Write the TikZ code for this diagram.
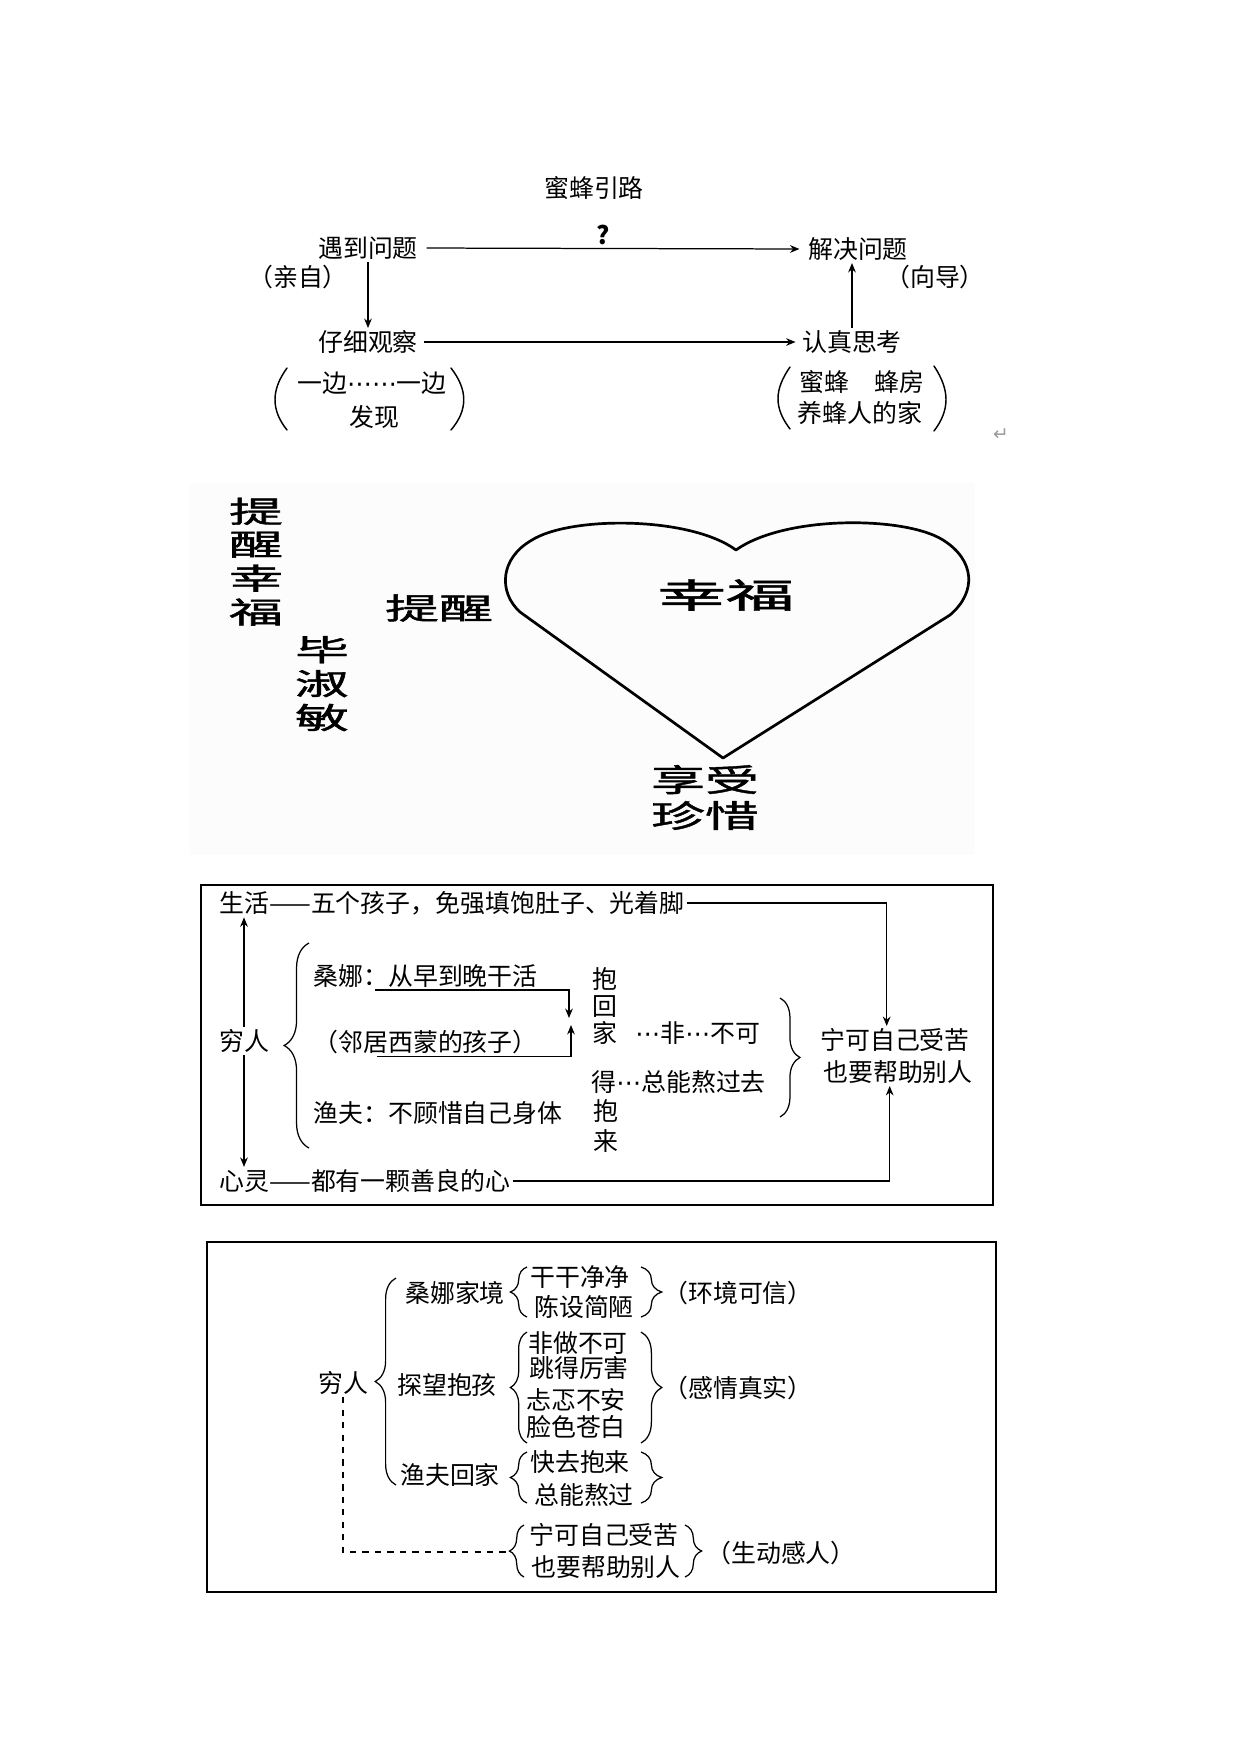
\documentclass[tikz,border=0pt]{standalone}
\usepackage{fontspec}
\setmainfont{Noto Sans CJK SC}
\newfontfamily\markfont{DejaVu Sans}
\newfontfamily\brushfont{Noto Sans CJK SC}[FakeBold=1.2]
\usepackage{graphicx}
\usepackage{xcolor}
\definecolor{hdpaper}{HTML}{FCFCFC}
\definecolor{hdmark}{HTML}{9A9A9A}
\usepackage{tikz}
\usetikzlibrary{arrows.meta,decorations.pathreplacing}
\newcommand{\squash}[2][0.55]{\scalebox{1}[#1]{#2}}
\newcommand{\middots}{{\markfont ⋯}}

\begin{document}
\begin{tikzpicture}[x=0.16933mm,y=-0.16933mm,
  txt/.style={inner sep=1pt,font=\fontsize{12}{13}\selectfont},
  brush/.style={inner sep=0pt,font=\brushfont\fontsize{26}{26.5}\selectfont},
  arr/.style={-{Stealth[length=1.6mm,width=1.3mm]},line width=0.6pt},
  frame/.style={draw,line width=0.8pt},
  paren/.style={line width=0.7pt,line cap=round},
  curly/.style={decorate,decoration={brace,amplitude=#1},line width=0.6pt}]
  \useasboundingbox (0,0) rectangle (1241,1754);

  \node[txt] (title) at (594,188) {蜜蜂引路};
  \node[txt,font=\bfseries\fontsize{12}{13}\selectfont] (ask) at (603,235) {?};
  \node[txt] (meet) at (368,248) {遇到问题};
  \node[txt] (solve) at (858,249) {解决问题};
  \node[txt] (self) at (298,277) {（亲自）};
  \node[txt] (guide) at (935,277) {（向导）};
  \node[txt] (observe) at (368,342) {仔细观察};
  \node[txt] (think) at (852,342) {认真思考};
  \node[txt] (side) at (372,383) {一边\middots\middots 一边};
  \node[txt] (found) at (374,417) {发现};
  \node[txt] (bees) at (862,382) {蜜蜂\quad 蜂房};
  \node[txt] (keeper) at (860,413) {养蜂人的家};
  \node[txt,text=hdmark,font=\markfont\fontsize{9}{10}\selectfont] (ret) at (1001,435) {↵};
  \draw[arr,shorten <=3pt,shorten >=3pt] (meet.east) -- (solve.west);
  \draw[arr] (meet.south) -- (meet.south |- observe.north);
  \draw[arr,shorten <=2pt,shorten >=2pt] (observe.east) -- (think.west);
  \draw[arr] (think.north) -- (think.north |- solve.south);
  \draw[paren] (287,368) .. controls (271,390) and (271,410) .. (287,430);
  \draw[paren] (451,368) .. controls (468,390) and (468,410) .. (451,430);
  \draw[paren] (790,367) .. controls (774,390) and (774,408) .. (790,429);
  \draw[paren] (934,366) .. controls (950,390) and (950,410) .. (934,431);

  \fill[hdpaper] (190,483) rectangle (975,855);
  \draw[line width=1.3pt,line join=round] (723,758) -- (520,612)
    .. controls (498,592) and (500,558) .. (532,540)
    .. controls (570,516) and (690,516) .. (736,550)
    .. controls (785,515) and (905,516) .. (943,540)
    .. controls (975,560) and (977,592) .. (950,615) -- cycle;
  \node[brush] (remind4) at (256,565) {\squash{\begin{tabular}{@{}c@{}}提\\醒\\幸\\福\end{tabular}}};
  \node[brush] (author) at (322,687) {\squash{\begin{tabular}{@{}c@{}}毕\\淑\\敏\end{tabular}}};
  \node[brush] (remind) at (439,608) {\squash{提醒}};
  \node[brush,font=\brushfont\fontsize{33}{34}\selectfont] (happy) at (726,595) {\squash[0.5]{幸福}};
  \node[brush] (enjoy) at (705,801) {\squash[0.58]{\begin{tabular}{@{}c@{}}享受\\珍惜\end{tabular}}};

  \draw[frame] (201,885) rectangle (993,1205);
  \node[txt,anchor=west] (life) at (217,903) {生活——五个孩子，免强填饱肚子、光着脚};
  \node[txt] (poor) at (244,1041) {穷人};
  \node[txt,anchor=west] (kind) at (217,1181) {心灵——都有一颗善良的心};
  \node[txt,anchor=west] (sangna) at (311,976) {桑娜：从早到晚干活};
  \node[txt,anchor=west] (neighbor) at (311,1042) {（邻居西蒙的孩子）};
  \node[txt,anchor=west] (fisherman) at (311,1113) {渔夫：不顾惜自己身体};
  \node[txt,align=center] (hughome) at (605,1006) {抱\\回\\家};
  \node[txt,anchor=west] (never) at (633,1033) {\middots 非\middots 不可};
  \node[txt,anchor=west] (endure) at (589,1082) {得\middots 总能熬过去};
  \node[txt,align=center,font=\fontsize{12}{14}\selectfont] (hugcome) at (606,1126) {抱\\来};
  \node[txt] (bear) at (895,1040) {宁可自己受苦};
  \node[txt] (help) at (898,1072) {也要帮助别人};
  \coordinate (hugdown) at (569,1018);
  \coordinate (hugup) at (571,1025);
  \draw[arr] (poor.north) -- (poor.north |- life.south);
  \draw[arr] (poor.south) -- (poor.south |- kind.north);
  \draw[arr] (life.east) -| ([xshift=-4pt]bear.north);
  \draw[arr] (kind.east) -| ([xshift=-4pt]help.south);
  \draw[arr] ([xshift=31pt]sangna.south west) -| (hugdown);
  \draw[arr] ([xshift=32pt]neighbor.south west) -| (hugup);
  \draw[curly=12pt] (309,1148) -- (309,943);
  \draw[curly=9.6pt] (780,998) -- (780,1117);

  \draw[frame] (207,1242) rectangle (996,1592);
  \node[txt] (poor2) at (343,1383) {穷人};
  \node[txt] (home) at (455,1293) {桑娜家境};
  \node[txt] (clean) at (580,1277) {干干净净};
  \node[txt] (plain) at (584,1307) {陈设简陋};
  \node[txt] (env) at (738,1293) {（环境可信）};
  \node[txt] (visit) at (447,1385) {探望抱孩};
  \node[txt] (must) at (578,1343) {非做不可};
  \node[txt] (jump) at (579,1368) {跳得厉害};
  \node[txt] (uneasy) at (576,1400) {忐忑不安};
  \node[txt] (pale) at (576,1427) {脸色苍白};
  \node[txt] (feel) at (738,1388) {（感情真实）};
  \node[txt] (fisher) at (450,1475) {渔夫回家};
  \node[txt] (fetch) at (580,1462) {快去抱来};
  \node[txt] (bearit) at (584,1495) {总能熬过};
  \node[txt] (bear2) at (604,1535) {宁可自己受苦};
  \node[txt] (help2) at (606,1567) {也要帮助别人};
  \node[txt] (vivid) at (781,1553) {（生动感人）};
  \coordinate (lasttip) at (507,1552);
  \draw[curly=10pt] (396,1485) -- (396,1278);
  \draw[curly=8pt] (527,1317) -- (527,1267);
  \draw[curly=8pt] (527,1443) -- (527,1332);
  \draw[curly=8pt] (527,1503) -- (527,1452);
  \draw[curly=7pt] (524,1577) -- (524,1525);
  \draw[curly=10pt] (641,1267) -- (641,1317);
  \draw[curly=10pt] (641,1332) -- (641,1443);
  \draw[curly=10pt] (641,1452) -- (641,1503);
  \draw[curly=8pt] (685,1525) -- (685,1577);
  \draw[dashed,line width=0.6pt] (poor2.south) |- (lasttip);
\end{tikzpicture}
\end{document}
